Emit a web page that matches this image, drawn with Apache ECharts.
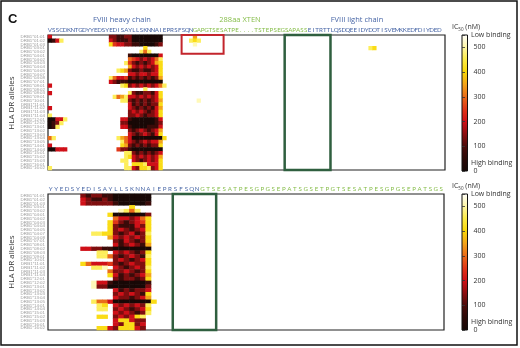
<!DOCTYPE html>
<html>
<head>
<meta charset="utf-8">
<script src="https://cdn.jsdelivr.net/npm/echarts@6/dist/echarts.min.js"></script>
<style>html,body{margin:0;padding:0;background:#fff}#main{width:520px;height:348px}</style>
</head>
<body>
<div id="main"></div>
<script>
// HLA DR alleles (rows)
var alleles = ['DRB1*01:01','DRB1*01:02','DRB1*01:03','DRB1*03:01','DRB1*03:02','DRB1*04:01','DRB1*04:02','DRB1*04:03','DRB1*04:04','DRB1*04:05','DRB1*04:07','DRB1*04:08','DRB1*07:01','DRB1*08:01','DRB1*08:02','DRB1*08:03','DRB1*09:01','DRB1*10:01','DRB1*11:01','DRB1*11:02','DRB1*11:03','DRB1*11:04','DRB1*12:01','DRB1*12:02','DRB1*13:01','DRB1*13:02','DRB1*13:03','DRB1*13:04','DRB1*13:05','DRB1*14:01','DRB1*14:04','DRB1*15:01','DRB1*15:02','DRB1*15:03','DRB1*16:01','DRB1*16:02'];

// sequences (columns)
var heavySeq = 'VSSCDKNTGDYYEDSYEDISAYLLSKNNAIEPRSFSQN'.split('');
var xtenSeq = 'GAPGTSESATPE....TSTEPSEGSAPASS'.split('');
var lightSeq = 'EITRTTLQSDQEEIDYDOTISVEMKKEDFDIYDED'.split('');
var bHeavySeq = 'YYEDSYEDISAYLLSKNNAIEPRSFSQN'.split('');
var bXtenSeq = 'GTSESATPESGPGSEPATSGSETPGTSESATPESGPGSEPATSGS'.split('');

// IC50 levels: 0 = ~10nM (black) ... 9 = ~510nM (pale), '.' = none
var level = {'0':10,'1':75,'2':140,'3':200,'4':250,'5':300,'6':350,'7':410,'8':460,'9':510};

// top panel, cols 0..40
var topRows = [
  '3....' + '...........' + '22112200000000.' + '......' + '.6..',
  '0138.' + '...........' + '32111200000000.' + '......' + '878.',
  '.....' + '...........' + '74332211000012.' + '......' + '.9..',
  '.....' + '...........' + '.........7.....' + '......' + '....',
  '.....' + '...........' + '........858....' + '......' + '....',
  '.....' + '...........' + '.....100000003.' + '......' + '....',
  '.....' + '...........' + '.....543232358.' + '......' + '....',
  '.....' + '...........' + '....8421212367.' + '......' + '....',
  '.....' + '...........' + '.....632323237.' + '......' + '....',
  '.....' + '...........' + '..876211211237.' + '......' + '....',
  '.....' + '...........' + '.....332332337.' + '......' + '....',
  '.....' + '...........' + '85334121212126.' + '......' + '....',
  '.....' + '...........' + '32111000000000.' + '......' + '....',
  '3....' + '...........' + '...872323232358' + '......' + '....',
  '.....' + '...........' + '.........8.....' + '......' + '....',
  '3....' + '...........' + '.....821122137.' + '......' + '....',
  '.....' + '...........' + '.8568332323237.' + '......' + '....',
  '.....' + '...........' + '...88212121236.' + '......' + '..9.',
  '.....' + '...........' + '.....312121227.' + '......' + '....',
  '3....' + '...........' + '.....321212136.' + '......' + '....',
  '.....' + '...........' + '.....232321237.' + '......' + '....',
  '8....' + '...........' + '.....223212237.' + '......' + '....',
  '00338' + '...........' + '...33100000013.' + '......' + '....',
  '0128.' + '...........' + '...22000000012.' + '......' + '....',
  '018..' + '...........' + '...33100001113.' + '......' + '....',
  '.....' + '...........' + '.....212321236.' + '......' + '....',
  '.....' + '...........' + '.....321232137.' + '......' + '....',
  '58...' + '...........' + '..8653000000007' + '......' + '....',
  '.....' + '...........' + '...85321232336.' + '......' + '....',
  '3....' + '...........' + '...76212121227.' + '......' + '....',
  '00333' + '...........' + '..422100000000.' + '......' + '....',
  '.....' + '...........' + '....8821212123.' + '......' + '....',
  '.....' + '...........' + '....8732323236.' + '......' + '....',
  '.....' + '...........' + '...88.32123237.' + '......' + '....',
  '.....' + '...........' + '....8.77783337.' + '......' + '....',
  '8....' + '...........' + '....8832778237.' + '......' + '....'
];
// isolated cells in the light chain [col, row, level]
var topExtra = [[84, 3, '8'], [85, 3, '7']];

// bottom panel, cols 0..19
var bottomRows = [
  '......2122110000000.',
  '......3211210000000.',
  '......3222221000001.',
  '...............7....',
  '.............9858...',
  '...........70000002.',
  '............5332357.',
  '...........74212347.',
  '...........72111327.',
  '...........72321237.',
  '........88772123128.',
  '...........63232327.',
  '............2132127.',
  '............3123216.',
  '......3322110000000.',
  '.........88.3232127.',
  '.........8852123218.',
  '............2321237.',
  '......7533342123227.',
  '........889.3212328.',
  '...........52232127.',
  '...........73121236.',
  '............2122127.',
  '........93310000001.',
  '........92200000002.',
  '............3121223.',
  '............2323217.',
  '............3221236.',
  '........855300000007',
  '.........87.3232328.',
  '.........88.2321237.',
  '............3232128.',
  '.........77.232378..',
  '............377322..',
  '............327723..',
  '.........773277732..'
];

// boxes: [colStart, colEnd, rowStart, rowEnd]
var redBox = [35, 45, 0, 4];
var greenBoxTop = [62, 73, 0, 35];
var greenBoxBottom = [23, 30, 0, 35];

var colorTicks = [0, 100, 200, 300, 400, 500];
var ramp = ['#140806','#2a0907','#4a0c0a','#8c0e10','#cf1018','#e03618','#ea6c1a','#f3a41a','#f9d80a','#fcec48','#fff7a8','#ffffff'];

var topSeq = heavySeq.concat(xtenSeq, lightSeq, [' ']);
var bottomSeq = bHeavySeq.concat(bXtenSeq);
var nHeavyTop = heavySeq.length, nXtenTop = xtenSeq.length;

function toCells(rows, extra) {
  var out = [];
  rows.forEach(function (s, r) {
    for (var c = 0; c < s.length; c++) {
      if (s[c] !== '.') out.push([c, r, level[s[c]]]);
    }
  });
  (extra || []).forEach(function (e) { out.push([e[0], e[1], level[e[2]]]); });
  return out;
}

var blue = '#4866a6', green = '#86bd4a';
var gradStops = ramp.map(function (c, i) { return { offset: 1 - i / (ramp.length - 1), color: c }; });

function idxCats(n) { var a = []; for (var i = 0; i < n; i++) a.push(String(i)); return a; }

function seqAxis(grid, seq, nBlue, fs) {
  return {
    type: 'category', gridIndex: grid, position: 'top', data: idxCats(seq.length),
    axisLine: { show: false }, axisTick: { show: false }, splitLine: { show: false },
    axisLabel: {
      interval: 0, fontSize: fs, margin: 2, fontFamily: 'Lato',
      formatter: function (v) { return seq[+v]; },
      color: function (v) {
        var i = +v;
        if (grid === 0) return (i < nHeavyTop || i >= nHeavyTop + nXtenTop) ? blue : green;
        return i < nBlue ? blue : green;
      }
    }
  };
}
function alleleAxis(grid) {
  return {
    type: 'category', gridIndex: grid, inverse: true, data: alleles,
    axisLine: { show: false }, axisTick: { show: false }, splitLine: { show: false },
    axisLabel: { interval: 0, fontSize: 4.4, color: '#9a9a9a', margin: 3 }
  };
}
function barAxis(grid) {
  return {
    type: 'value', gridIndex: grid, min: 0, max: 550, interval: 100, position: 'right',
    axisLine: { show: false }, splitLine: { show: false },
    axisTick: { show: true, length: 3, lineStyle: { color: '#333', width: 0.8 } },
    axisLabel: { fontSize: 7, color: '#333', margin: 6, fontFamily: 'Open Sans',
      formatter: function (v) { return v > 500 ? '' : String(v); } }
  };
}

var txt = function (t, x, y, o) {
  o = o || {};
  return { type: 'text', x: x, y: y, rotation: o.rot || 0, silent: true,
    style: { text: t, fill: o.color || '#333', fontSize: o.size || 7, fontWeight: o.weight || 'normal',
      fontFamily: o.font || 'Open Sans', align: o.align || 'left', verticalAlign: 'middle', rich: o.rich } };
};
var icRich = { a: { fontSize: 7, fill: '#333', fontFamily: 'Open Sans' }, s: { fontSize: 4.5, fill: '#333', verticalAlign: 'bottom', padding: [5, 0, 0, 0], fontFamily: 'Open Sans' } };

var chart = echarts.init(document.getElementById('main'), null, { renderer: 'canvas' });
chart.setOption({
  animation: false,
  backgroundColor: '#fff',
  grid: [
    { left: 48, top: 35, width: 397, height: 135, show: true, borderColor: '#222', borderWidth: 1.2 },
    { left: 48, top: 194, width: 396, height: 136, show: true, borderColor: '#222', borderWidth: 1.2 },
    { left: 462, top: 35, width: 5.5, height: 136, show: true, borderColor: '#111', borderWidth: 1,
      backgroundColor: new echarts.graphic.LinearGradient(0, 0, 0, 1, gradStops) },
    { left: 462, top: 194, width: 5.5, height: 136, show: true, borderColor: '#111', borderWidth: 1,
      backgroundColor: new echarts.graphic.LinearGradient(0, 0, 0, 1, gradStops) }
  ],
  xAxis: [
    seqAxis(0, topSeq, 0, 6.2),
    seqAxis(1, bottomSeq, bHeavySeq.length, 6.2),
    { type: 'value', gridIndex: 2, show: false, min: 0, max: 1 },
    { type: 'value', gridIndex: 3, show: false, min: 0, max: 1 }
  ],
  yAxis: [alleleAxis(0), alleleAxis(1), barAxis(2), barAxis(3)],
  visualMap: { type: 'continuous', show: false, min: 0, max: 550, seriesIndex: [0, 1], inRange: { color: ramp } },
  series: [
    { type: 'heatmap', xAxisIndex: 0, yAxisIndex: 0, data: toCells(topRows, topExtra), itemStyle: { borderWidth: 0 }, emphasis: { disabled: true } },
    { type: 'heatmap', xAxisIndex: 1, yAxisIndex: 1, data: toCells(bottomRows), itemStyle: { borderWidth: 0 }, emphasis: { disabled: true } }
  ]
});

function boxRect(grid, b, color, lw, id) {
  var p0 = chart.convertToPixel({ gridIndex: grid }, [b[0], b[2]]);
  var p1 = chart.convertToPixel({ gridIndex: grid }, [b[1], b[3]]);
  var q = chart.convertToPixel({ gridIndex: grid }, [b[0] + 1, b[2] + 1]);
  var hw = (q[0] - p0[0]) / 2, hh = (q[1] - p0[1]) / 2;
  return { type: 'rect', id: id, silent: true, z: 10,
    shape: { x: p0[0] - hw, y: p0[1] - hh, width: p1[0] - p0[0] + 2 * hw, height: p1[1] - p0[1] + 2 * hh },
    style: { fill: 'none', stroke: color, lineWidth: lw } };
}

chart.setOption({
  graphic: [
    { type: 'rect', id: 'frame', silent: true, shape: { x: 1, y: 1, width: 516, height: 344 }, style: { fill: 'none', stroke: '#111', lineWidth: 1.5 } },
    boxRect(0, redBox, '#c3252c', 2, 'red'),
    boxRect(0, greenBoxTop, '#2f5f3f', 2.5, 'g1'),
    boxRect(1, greenBoxBottom, '#2f5f3f', 2.5, 'g2'),
    txt('C', 8, 19, { size: 13, weight: 'bold', color: '#111', font: 'Liberation Sans' }),
    txt('FVIII heavy chain', 122, 20, { align: 'center', color: blue, size: 7.5 }),
    txt('288aa XTEN', 240, 20, { align: 'center', color: green, size: 7.5 }),
    txt('FVIII light chain', 357, 20, { align: 'center', color: blue, size: 7.5 }),
    txt('HLA DR alleles', 12, 103, { align: 'center', rot: Math.PI / 2, size: 8 }),
    txt('HLA DR alleles', 12, 262, { align: 'center', rot: Math.PI / 2, size: 8 }),
    txt('{a|IC}{s|50}{a| (nM)}', 452, 27, { rich: icRich }),
    txt('Low binding', 471, 34.5),
    txt('High binding', 471, 163),
    txt('{a|IC}{s|50}{a| (nM)}', 452, 186, { rich: icRich }),
    txt('Low binding', 471, 194),
    txt('High binding', 471, 322)
  ]
});
</script>
</body>
</html>
